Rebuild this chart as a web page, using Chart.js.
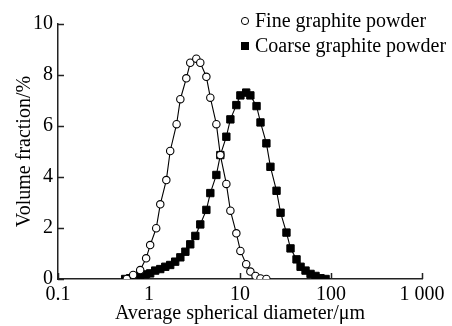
<!DOCTYPE html>
<html>
<head>
<meta charset="utf-8">
<script src="https://cdn.jsdelivr.net/npm/chart.js@4/dist/chart.umd.min.js"></script>
<style>
  html, body { margin: 0; padding: 0; background: #fff; }
  #wrap { width: 452px; height: 326px; }
</style>
</head>
<body>
<div id="wrap"><canvas id="c" width="452" height="326"></canvas></div>
<script>
// ---- data ----
const fineDiameter = [0.57, 0.67, 0.80, 0.93, 1.03, 1.20, 1.33, 1.55, 1.71, 2.01, 2.21, 2.57, 2.84, 3.31, 3.66, 4.27, 4.72, 5.50, 6.08, 7.08, 7.84, 9.12, 10.1, 11.7, 13.0, 14.8, 16.8, 19.5];
const fineVolume   = [0.00, 0.16, 0.35, 0.81, 1.33, 1.99, 2.93, 3.88, 5.02, 6.07, 7.05, 7.87, 8.48, 8.64, 8.48, 7.93, 7.11, 6.07, 4.86, 3.73, 2.68, 1.79, 1.10, 0.58, 0.29, 0.12, 0.02, 0.00];

const coarseDiameter = [0.547, 0.621, 0.705, 0.80, 0.908, 1.03, 1.17, 1.33, 1.51, 1.71, 1.94, 2.21, 2.51, 2.84, 3.23, 3.66, 4.27, 4.72, 5.50, 6.08, 7.08, 7.84, 9.12, 10.1, 11.7, 13.0, 15.2, 16.8, 19.5, 21.6, 25.2, 27.9, 32.4, 35.9, 41.8, 46.3, 52.5, 59.6, 67.6, 76.7, 87.2];
const coarseVolume   = [0.00, 0.03, 0.09, 0.16, 0.18, 0.22, 0.33, 0.39, 0.48, 0.55, 0.68, 0.85, 1.07, 1.36, 1.69, 2.14, 2.71, 3.37, 4.08, 4.86, 5.58, 6.26, 6.82, 7.20, 7.31, 7.20, 6.78, 6.14, 5.32, 4.40, 3.46, 2.60, 1.82, 1.20, 0.77, 0.48, 0.33, 0.20, 0.12, 0.03, 0.00];

const seriesNames = ['Fine graphite powder', 'Coarse graphite powder'];
const xTickValues = [0.1, 1, 10, 100, 1000];
const xTickLabels = ['0.1', '1', '10', '100', '1 000'];
const yTickValues = [0, 2, 4, 6, 8, 10];
const xTitle = 'Average spherical diameter/\u03bcm';
const yTitle = 'Volume fraction/%';

// ---- chart ----
const FONT = 'Liberation Serif, Times New Roman, serif';
const FS = 20;
const AXIS = '#222';

const toPts = (xs, ys) => xs.map((x, i) => ({ x: x, y: ys[i] }));

const inwardTicks = {
  id: 'inwardTicks',
  beforeDatasetsDraw(chart) {
    const ctx = chart.ctx;
    const xs = chart.scales.x, ys = chart.scales.y;
    const a = chart.chartArea;
    ctx.save();
    ctx.strokeStyle = AXIS;
    ctx.lineWidth = 1.5;
    ctx.beginPath();
    xTickValues.forEach(v => {
      const px = Math.round(xs.getPixelForValue(v)) + 0.5;
      ctx.moveTo(px, a.bottom);
      ctx.lineTo(px, a.bottom - 6);
    });
    yTickValues.forEach(v => {
      const py = Math.round(ys.getPixelForValue(v)) + 0.5;
      ctx.moveTo(a.left, py);
      ctx.lineTo(a.left + 6, py);
    });
    ctx.stroke();
    ctx.restore();
  }
};

const customLegend = {
  id: 'customLegend',
  afterDraw(chart) {
    const ctx = chart.ctx;
    const mx = 245, ty = [21, 46], tx = 255;
    ctx.save();
    ctx.font = FS + 'px ' + FONT;
    ctx.textBaseline = 'middle';
    chart.data.datasets.forEach((ds, i) => {
      const y = ty[i];
      ctx.beginPath();
      ctx.lineWidth = 1;
      ctx.strokeStyle = '#000';
      if (ds.pointStyle === 'rect') {
        ctx.fillStyle = '#000';
        ctx.fillRect(mx - 4, y - 4, 8, 8);
      } else {
        ctx.fillStyle = '#fff';
        ctx.arc(mx, y, 3.6, 0, Math.PI * 2);
        ctx.fill();
        ctx.stroke();
      }
      ctx.fillStyle = '#000';
      ctx.fillText(ds.label, tx, y + 1);
    });
    ctx.restore();
  }
};

new Chart(document.getElementById('c'), {
  type: 'line',
  data: {
    datasets: [
      {
        label: seriesNames[0],
        data: toPts(fineDiameter, fineVolume),
        borderColor: '#000',
        borderWidth: 1.1,
        pointStyle: 'circle',
        pointRadius: 3.7,
        pointBorderWidth: 1.1,
        pointBackgroundColor: '#fff',
        pointBorderColor: '#000',
        tension: 0,
        fill: false
      },
      {
        label: seriesNames[1],
        data: toPts(coarseDiameter, coarseVolume),
        borderColor: '#000',
        borderWidth: 1.1,
        pointStyle: 'rect',
        pointRadius: 5.2,
        pointBorderWidth: 1,
        pointBackgroundColor: '#000',
        pointBorderColor: '#000',
        tension: 0,
        fill: false
      }
    ]
  },
  options: {
    responsive: false,
    animation: false,
    events: [],
    layout: { padding: { left: 0, top: 24, right: 30, bottom: 0 } },
    plugins: { legend: { display: false }, tooltip: { enabled: false } },
    scales: {
      x: {
        type: 'logarithmic',
        min: 0.1,
        max: 1000,
        afterBuildTicks(scale) { scale.ticks = xTickValues.map(v => ({ value: v })); },
        afterFit(scale) { scale.height = 47; },
        ticks: {
          color: '#000',
          font: { family: FONT, size: FS },
          padding: 4,
          maxRotation: 0,
          autoSkip: false,
          callback(value) { const i = xTickValues.indexOf(value); return i >= 0 ? xTickLabels[i] : ''; }
        },
        grid: { display: false, drawTicks: false, tickLength: 0 },
        border: { display: true, color: AXIS, width: 1.5 },
        title: {
          display: true,
          text: xTitle,
          color: '#000',
          font: { family: FONT, size: FS },
          padding: { top: 0, bottom: 0 }
        }
      },
      y: {
        type: 'linear',
        min: 0,
        max: 10,
        afterBuildTicks(scale) { scale.ticks = yTickValues.map(v => ({ value: v })); },
        afterFit(scale) { scale.width = 58; },
        ticks: {
          color: '#000',
          font: { family: FONT, size: FS },
          padding: 5
        },
        grid: { display: false, drawTicks: false, tickLength: 0 },
        border: { display: true, color: AXIS, width: 1.5 },
        title: {
          display: true,
          text: yTitle,
          color: '#000',
          font: { family: FONT, size: FS },
          padding: { top: 13, bottom: 0 }
        }
      }
    }
  },
  plugins: [inwardTicks, customLegend]
});
</script>
</body>
</html>
